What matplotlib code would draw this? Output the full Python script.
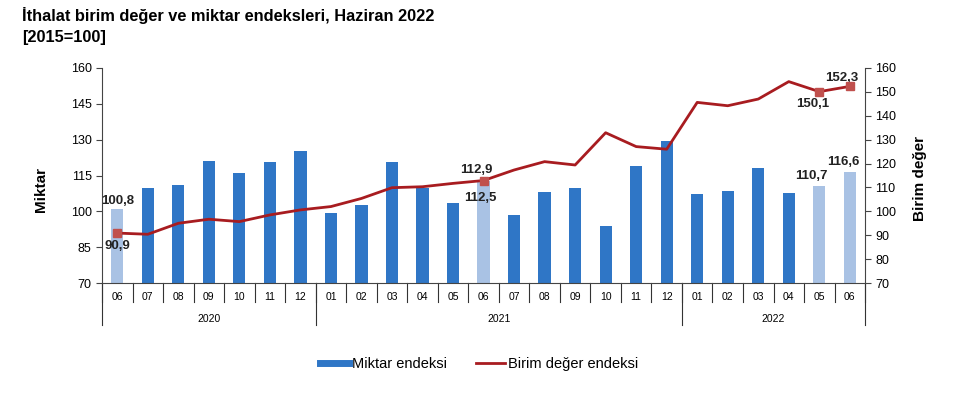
import numpy as np
import matplotlib
matplotlib.use("Agg")
import matplotlib.pyplot as plt
from matplotlib.lines import Line2D
import matplotlib.transforms as mtransforms

plt.rcParams['font.family'] = ['Liberation Sans', 'DejaVu Sans']

months = ["06", "07", "08", "09", "10", "11", "12",
          "01", "02", "03", "04", "05", "06", "07", "08", "09", "10", "11", "12",
          "01", "02", "03", "04", "05", "06"]
years = ["2020", "2021", "2022"]
year_counts = [7, 12, 6]
miktar = [100.8, 109.9, 110.9, 121.1, 115.9, 120.8, 125.3,
          99.4, 102.7, 120.8, 109.9, 103.6, 112.5, 98.5, 108.1, 109.9, 93.9, 119.0, 129.4,
          107.1, 108.5, 118.0, 107.5, 110.7, 116.6]
birim = [90.9, 90.4, 95.0, 96.7, 95.7, 98.5, 100.6,
         102.0, 105.4, 109.9, 110.3, 111.7, 112.9, 117.3, 120.8, 119.4, 132.9, 127.1, 126.0,
         145.6, 144.2, 147.0, 154.3, 150.1, 152.3]
highlight = [0, 12, 23, 24]

blue = '#2F76C6'
light = '#A9C2E4'
red = '#A81C20'
mark = '#C0504D'

fig = plt.figure(figsize=(9.58, 3.99), dpi=100)
ax = fig.add_axes([0.1065, 0.2907, 0.7965, 0.5389])
x = np.arange(len(months))
colors = [light if i in highlight else blue for i in x]
ax.bar(x, miktar, width=0.4, color=colors, zorder=2)
ax.set_xlim(-0.5, len(months) - 0.5)
ax.set_ylim(70, 160)
ax.set_yticks(np.arange(70, 161, 15))
ax.tick_params(axis='y', labelsize=9, length=4, color='#444444')
ax.set_xticks([])
for s in ['top', 'right']:
    ax.spines[s].set_visible(False)
ax.spines['left'].set_color('#444444')
ax.spines['bottom'].set_color('#444444')
ax.set_ylabel('Miktar', fontsize=11, fontweight='bold')
ax.yaxis.set_label_coords(-0.071, 0.437)

ax2 = ax.twinx()
ax2.set_ylim(70, 160)
ax2.set_yticks(np.arange(70, 161, 10))
ax2.tick_params(axis='y', labelsize=9, length=4, color='#444444')
for s in ['top', 'left', 'bottom']:
    ax2.spines[s].set_visible(False)
ax2.spines['right'].set_color('#444444')
ax2.plot(x, birim, color=red, lw=2.0, zorder=3)
ax2.plot([x[i] for i in highlight], [birim[i] for i in highlight], 's',
         color=mark, ms=6, zorder=4)
ax2.set_ylabel('Birim değer', fontsize=11, fontweight='bold')
ax2.yaxis.set_label_coords(1.063, 0.484)

# category axis
trans = mtransforms.blended_transform_factory(ax.transData, ax.transAxes)
for i in range(len(months) + 1):
    ax.plot([i - 0.5, i - 0.5], [0, -0.088], color='#333333', lw=0.8,
            transform=trans, clip_on=False)
for i, m in enumerate(months):
    ax.text(i, -0.065, m, transform=trans, ha='center', va='center', fontsize=7.5)
start = 0
bounds = [-0.5]
for y, c in zip(years, year_counts):
    ax.text(start + (c - 1) / 2, -0.167, y, transform=trans, ha='center',
            va='center', fontsize=7.5)
    start += c
    bounds.append(start - 0.5)
for b in bounds:
    ax.plot([b, b], [0, -0.195], color='#333333', lw=0.8,
            transform=trans, clip_on=False)

# annotations
fs = 9.5
kw = dict(fontsize=fs, fontweight='bold', color='#222222', ha='center')
ax.text(0, miktar[0] + 1.2, '100,8', va='bottom', **kw)
ax2.text(0, birim[0] - 2.8, '90,9', va='top', **kw)
ax2.text(11.75, birim[12] + 2.0, '112,9', va='bottom', **kw)
ax.text(11.9, miktar[12] - 4.6, '112,5', va='top', **kw)
ax.text(22.75, miktar[23] + 1.5, '110,7', va='bottom', **kw)
ax.text(23.8, miktar[24] + 1.5, '116,6', va='bottom', **kw)
ax2.text(22.8, birim[23] - 2.6, '150,1', va='top', **kw)
ax2.text(23.75, birim[24] + 1.0, '152,3', va='bottom', **kw)

fig.text(0.023, 0.96, 'İthalat birim değer ve miktar endeksleri, Haziran 2022',
         fontsize=11.8, fontweight='bold', va='center')
fig.text(0.023, 0.905, '[2015=100]', fontsize=11.8, fontweight='bold', va='center')

handles = [Line2D([0], [0], color=blue, lw=5), Line2D([0], [0], color=red, lw=2)]
fig.legend(handles, ['Miktar endeksi', 'Birim değer endeksi'], loc='center',
           bbox_to_anchor=(0.50, 0.088), ncol=2, frameon=False, fontsize=10.5,
           handlelength=2.0, handletextpad=0.2, columnspacing=2.0)

fig.savefig('out.png', dpi=100)
